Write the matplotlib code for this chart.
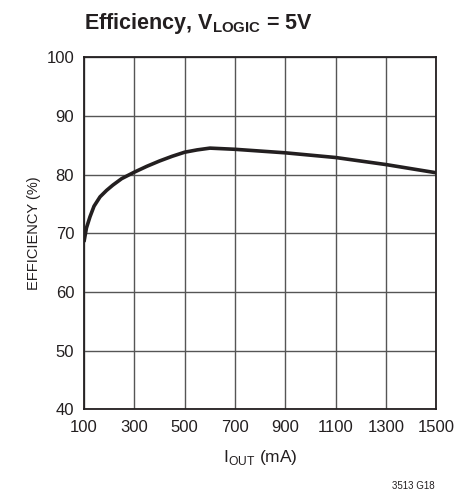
import numpy as np
import matplotlib
matplotlib.use("Agg")
import matplotlib.pyplot as plt

### efficiency curve
iout_ma = [100, 110, 124, 140, 164, 190, 215, 250, 300, 350, 400, 450, 500,
           550, 601, 700, 800, 900, 1000, 1100, 1200, 1300, 1400, 1500]
efficiency = [68.5, 70.9, 72.8, 74.6, 76.2, 77.3, 78.2, 79.3, 80.4, 81.4, 82.3, 83.1, 83.8,
              84.2, 84.5, 84.3, 84.0, 83.7, 83.3, 82.9, 82.3, 81.7, 81.0, 80.3]
x_ticks = [100, 300, 500, 700, 900, 1100, 1300, 1500]
y_ticks = [40, 50, 60, 70, 80, 90, 100]

plt.rcParams['font.family'] = ['Liberation Sans Narrow', 'Liberation Sans', 'DejaVu Sans']

fig = plt.figure(figsize=(4.69, 4.93), dpi=100)
ax = fig.add_axes([0.179, 0.170, 0.751, 0.714])

ax.plot(iout_ma, efficiency, color='#231f20', lw=2.6, solid_capstyle='butt')

ax.set_xlim(100, 1500)
ax.set_ylim(40, 100)
ax.set_xticks(x_ticks)
ax.set_yticks(y_ticks)
ax.grid(True, color='#555555', lw=1.0)
ax.tick_params(length=0, labelsize=12, colors='#231f20')
ax.tick_params(axis='x', pad=8)
ax.tick_params(axis='y', pad=7)
for s in ax.spines.values():
    s.set_color('#231f20')
    s.set_linewidth(1.3)

ax.set_xlabel(r'I$_{\mathregular{OUT}}$ (mA)', fontsize=12.5, color='#231f20', labelpad=9)
ax.set_ylabel('EFFICIENCY (%)', fontsize=10.5, color='#231f20', labelpad=4)

fig.text(0.179, 0.952, r'Efficiency, V$_{\mathregular{LOGIC}}$ = 5V', fontsize=15.5,
         fontweight='bold', ha='left', va='center', color='#231f20')
fig.text(0.927, 0.004, '3513 G18', fontsize=7, ha='right', va='bottom', color='#231f20')

fig.savefig('out.png', dpi=100)
